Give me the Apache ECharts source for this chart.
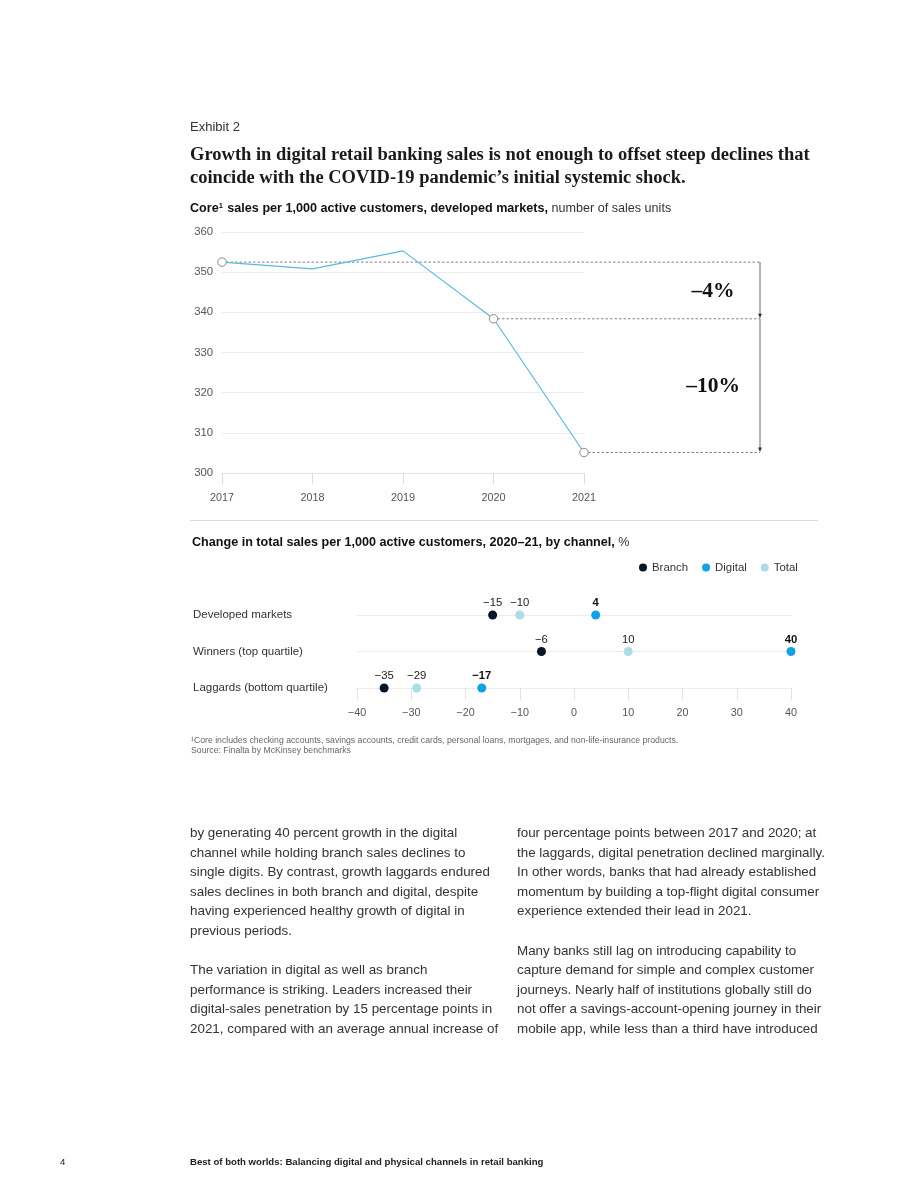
<!DOCTYPE html>
<html>
<head>
<meta charset="utf-8">
<script src="https://cdn.jsdelivr.net/npm/echarts@6/dist/echarts.min.js"></script>
<style>
  html, body { margin: 0; padding: 0; background: #fff; }
  #wrap { position: relative; width: 920px; height: 1191px; overflow: hidden; }
  #chart { position: absolute; left: 0; top: 0; width: 920px; height: 1191px; }
  .body { position: absolute; font-family: "Liberation Sans", Arial, sans-serif; font-size: 13.4px; line-height: 19.6px; color: #333; white-space: nowrap; }
  .foot { position: absolute; font-family: "Liberation Sans", Arial, sans-serif; font-size: 9.6px; color: #222; white-space: nowrap; }
</style>
</head>
<body>
<div id="wrap">
  <div id="chart"></div>
  <div class="body" style="left:190px; top:823px;">by generating 40 percent growth in the digital<br>channel while holding branch sales declines to<br>single digits. By contrast, growth laggards endured<br>sales declines in both branch and digital, despite<br>having experienced healthy growth of digital in<br>previous periods.<br><br>The variation in digital as well as branch<br>performance is striking. Leaders increased their<br>digital-sales penetration by 15 percentage points in<br>2021, compared with an average annual increase of</div>
  <div class="body" style="left:517px; top:823px;">four percentage points between 2017 and 2020; at<br>the laggards, digital penetration declined marginally.<br>In other words, banks that had already established<br>momentum by building a top-flight digital consumer<br>experience extended their lead in 2021.<br><br>Many banks still lag on introducing capability to<br>capture demand for simple and complex customer<br>journeys. Nearly half of institutions globally still do<br>not offer a savings-account-opening journey in their<br>mobile app, while less than a third have introduced</div>
  <div class="foot" style="left:60px; top:1156px; font-weight:normal;">4</div>
  <div class="foot" style="left:190px; top:1156px; font-weight:bold;">Best of both worlds: Balancing digital and physical channels in retail banking</div>
</div>
<script>
// ---- Data: top chart ----
var years = ['2017', '2018', '2019', '2020', '2021'];
var coreSales = [352.5, 350.8, 355.3, 338.4, 305.1];
var markedIdx = [0, 3, 4];             // points with hollow markers / reference lines
var changeSegments = [[0, 3], [3, 4]]; // from-index, to-index for % change brackets

// ---- Data: dot plot ----
var groups = ['Developed markets', 'Winners (top quartile)', 'Laggards (bottom quartile)'];
var branchChange = [-15, -6, -35];
var digitalChange = [4, 40, -17];
var totalChange = [-10, 10, -29];
var xTicksMin = -40, xTicksMax = 40, xTicksStep = 10;

var SANS = '"Liberation Sans", Arial, sans-serif';
var SERIF = '"Liberation Serif", "DejaVu Serif", serif';
var C_BRANCH = '#051626', C_DIGITAL = '#12a0e8', C_TOTAL = '#aadcea';
var BRACKET_X = 760;

function fmtNum(v) { return (v < 0 ? '\u2212' + Math.abs(v) : '' + v); }

var chart = echarts.init(document.getElementById('chart'), null, { renderer: 'canvas' });

var option = {
  backgroundColor: '#fff',
  animation: false,
  textStyle: { fontFamily: SANS },
  graphic: [
    { type: 'text', left: 190, top: 121, style: { text: 'Exhibit 2', font: '13px ' + SANS, fill: '#333' } },
    { type: 'text', left: 190, top: 144, style: { text: 'Growth in digital retail banking sales is not enough to offset steep declines that\ncoincide with the COVID-19 pandemic\u2019s initial systemic shock.', font: 'bold 18.5px ' + SERIF, fill: '#1a1a1a', lineHeight: 23 } },
    { type: 'text', left: 190, top: 202, style: { rich: { b: { font: 'bold 12.6px ' + SANS, fill: '#111' }, s: { font: 'bold 7.5px ' + SANS, fill: '#111', verticalAlign: 'top', padding: [0, 1, 5, 0] }, n: { font: '12.6px ' + SANS, fill: '#333' } }, text: '{b|Core}{s|1}{b| sales per 1,000 active customers, developed markets,}{n| number of sales units}' } },
    { type: 'line', shape: { x1: 190, y1: 520.5, x2: 818, y2: 520.5 }, style: { stroke: '#dcdcdc', lineWidth: 1 } },
    { type: 'text', left: 192, top: 536, style: { rich: { b: { font: 'bold 12.6px ' + SANS, fill: '#111' }, n: { font: '12.6px ' + SANS, fill: '#333' } }, text: '{b|Change in total sales per 1,000 active customers, 2020\u201321, by channel,}{n| %}' } },
    { type: 'text', left: 191, top: 736, style: { text: '\u00b9Core includes checking accounts, savings accounts, credit cards, personal loans, mortgages, and non-life-insurance products.\nSource: Finalta by McKinsey benchmarks', font: '8.7px ' + SANS, fill: '#666', lineHeight: 9.8 } }
  ],
  legend: {
    left: 634, top: 557,
    itemWidth: 8, itemHeight: 8, itemGap: 14,
    icon: 'circle',
    textStyle: { fontSize: 11.4, color: '#333', fontFamily: SANS },
    data: ['Branch', 'Digital', 'Total']
  },
  grid: [
    { left: 222, top: 232, width: 362, height: 241 },
    { left: 357, top: 615, width: 434, height: 73 }
  ],
  xAxis: [
    {
      gridIndex: 0, type: 'category', data: years, boundaryGap: false,
      axisLine: { show: true, lineStyle: { color: '#e2e2e2' } },
      axisTick: { show: true, length: 11, lineStyle: { color: '#dcdcdc' } },
      axisLabel: { color: '#555', fontSize: 10.8, margin: 20, fontFamily: SANS },
      splitLine: { show: false }
    },
    {
      gridIndex: 1, type: 'value', min: xTicksMin, max: xTicksMax, interval: xTicksStep,
      axisLine: { show: true, lineStyle: { color: '#ececec' } },
      axisTick: { show: true, length: 12, lineStyle: { color: '#e2e2e2' } },
      axisLabel: { color: '#555', fontSize: 10.8, margin: 20, fontFamily: SANS, formatter: function (v) { return fmtNum(v); } },
      splitLine: { show: false }
    }
  ],
  yAxis: [
    {
      gridIndex: 0, type: 'value', min: 300, max: 360, interval: 10,
      axisLine: { show: false }, axisTick: { show: false },
      axisLabel: { color: '#555', fontSize: 11.3, margin: 9, fontFamily: SANS },
      splitLine: { show: true, lineStyle: { color: '#ececec' } }
    },
    {
      gridIndex: 1, type: 'category', data: groups, inverse: true, boundaryGap: false,
      axisLine: { show: false }, axisTick: { show: false },
      axisLabel: { color: '#333', fontSize: 11.5, margin: 164, align: 'left', fontFamily: SANS },
      splitLine: { show: true, lineStyle: { color: '#ececec' } }
    }
  ],
  series: [
    {
      type: 'line', xAxisIndex: 0, yAxisIndex: 0, z: 3,
      data: coreSales.map(function (v, i) {
        return markedIdx.indexOf(i) >= 0 ? { value: v } : { value: v, symbol: 'none' };
      }),
      symbol: 'circle', symbolSize: 8.5,
      itemStyle: { color: '#fff', borderColor: '#888', borderWidth: 1 },
      lineStyle: { color: '#5bb9de', width: 1.2 },
      emphasis: { disabled: true }
    },
    {
      // dashed reference lines from marked points to the bracket
      type: 'custom', xAxisIndex: 0, yAxisIndex: 0, z: 2,
      data: markedIdx.map(function (i) { return [i, coreSales[i]]; }),
      renderItem: function (params, api) {
        var p = api.coord([api.value(0), api.value(1)]);
        return { type: 'line', shape: { x1: p[0] + 4, y1: p[1], x2: BRACKET_X, y2: p[1] }, style: { stroke: '#666', lineWidth: 0.8, lineDash: [2.5, 2] } };
      }
    },
    {
      // bracket segments with arrow heads and % change labels
      type: 'custom', xAxisIndex: 0, yAxisIndex: 0, z: 4,
      data: changeSegments.map(function (s) { return [s[0], coreSales[s[0]], s[1], coreSales[s[1]]]; }),
      renderItem: function (params, api) {
        var a = api.coord([api.value(0), api.value(1)]);
        var b = api.coord([api.value(2), api.value(3)]);
        var pct = Math.round((api.value(3) / api.value(1) - 1) * 100);
        var midY = (a[1] + b[1]) / 2;
        return {
          type: 'group',
          children: [
            { type: 'line', shape: { x1: BRACKET_X, y1: a[1], x2: BRACKET_X, y2: b[1] - 1 }, style: { stroke: '#555', lineWidth: 0.9 } },
            { type: 'polygon', shape: { points: [[BRACKET_X - 2, b[1] - 5], [BRACKET_X + 2, b[1] - 5], [BRACKET_X, b[1] - 1]] }, style: { fill: '#333' } },
            { type: 'text', x: 713, y: midY + 1, style: { text: '\u2013' + Math.abs(pct) + '%', font: 'bold 21.5px ' + SERIF, fill: '#111', align: 'center', verticalAlign: 'middle' } }
          ]
        };
      }
    },
    {
      name: 'Branch', type: 'scatter', xAxisIndex: 1, yAxisIndex: 1, z: 5,
      data: branchChange.map(function (v, i) { return [v, i]; }),
      symbolSize: 9, itemStyle: { color: C_BRANCH, opacity: 1 },
      label: { show: true, position: 'top', distance: 2, color: '#222', fontSize: 11.3, fontFamily: SANS, formatter: function (p) { return fmtNum(p.value[0]); } }
    },
    {
      name: 'Digital', type: 'scatter', xAxisIndex: 1, yAxisIndex: 1, z: 5,
      data: digitalChange.map(function (v, i) { return [v, i]; }),
      symbolSize: 9, itemStyle: { color: C_DIGITAL, opacity: 1 },
      label: { show: true, position: 'top', distance: 2, color: '#111', fontSize: 11.3, fontWeight: 'bold', fontFamily: SANS, formatter: function (p) { return fmtNum(p.value[0]); } }
    },
    {
      name: 'Total', type: 'scatter', xAxisIndex: 1, yAxisIndex: 1, z: 5,
      data: totalChange.map(function (v, i) { return [v, i]; }),
      symbolSize: 9, itemStyle: { color: C_TOTAL, opacity: 1 },
      label: { show: true, position: 'top', distance: 2, color: '#222', fontSize: 11.3, fontFamily: SANS, formatter: function (p) { return fmtNum(p.value[0]); } }
    }
  ]
};
chart.setOption(option);
</script>
</body>
</html>
